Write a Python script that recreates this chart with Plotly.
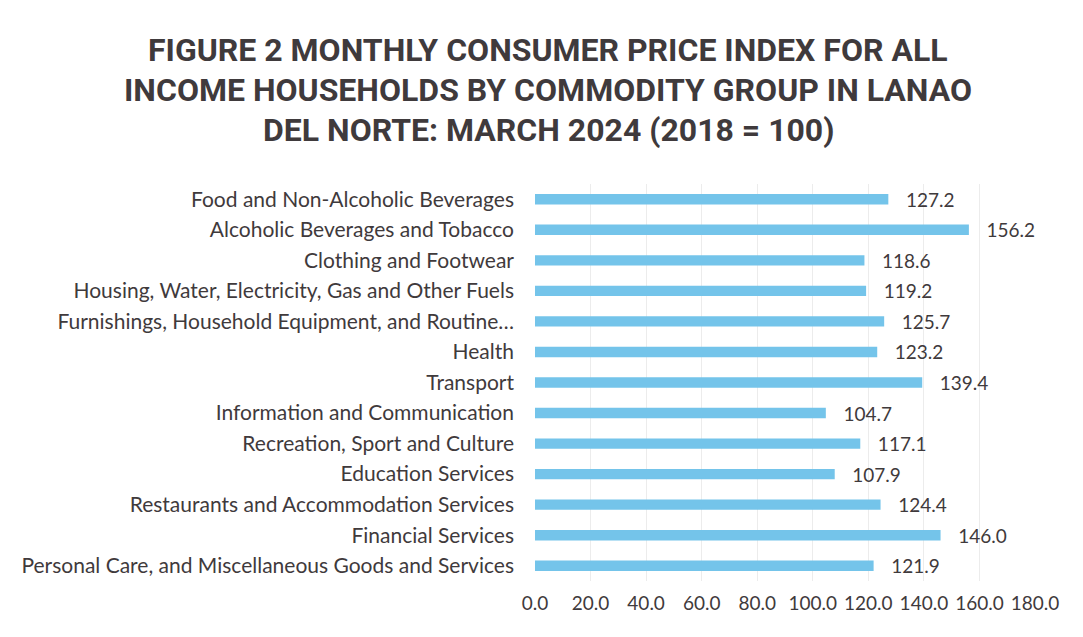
import plotly.graph_objects as go

categories = [
    "Food and Non-Alcoholic Beverages",
    "Alcoholic Beverages and Tobacco",
    "Clothing and Footwear",
    "Housing, Water, Electricity, Gas and Other Fuels",
    "Furnishings, Household Equipment, and Routine…",
    "Health",
    "Transport",
    "Information and Communication",
    "Recreation, Sport and Culture",
    "Education Services",
    "Restaurants and Accommodation Services",
    "Financial Services",
    "Personal Care, and Miscellaneous Goods and Services",
]
values = [127.2, 156.2, 118.6, 119.2, 125.7, 123.2, 139.4, 104.7, 117.1, 107.9, 124.4, 146.0, 121.9]
x_ticks = [0, 20, 40, 60, 80, 100, 120, 140, 160, 180]

title_lines = [
    "FIGURE 2 MONTHLY CONSUMER PRICE INDEX FOR ALL",
    "INCOME HOUSEHOLDS BY COMMODITY GROUP IN LANAO",
    "DEL NORTE: MARCH 2024 (2018 = 100)",
]

text_color = "#3f3a3c"
bar_color = "#74c4ea"
font_family = "Lato"

fig = go.Figure(
    go.Bar(
        x=values,
        y=categories,
        orientation="h",
        marker=dict(color=bar_color, line=dict(width=0)),
        width=0.34,
        text=[f"{v:.1f}" for v in values],
        texttemplate="\u00a0\u00a0\u00a0%{text}",
        textposition="outside",
        constraintext="none",
        cliponaxis=False,
        textfont=dict(family=font_family, size=19, color=text_color),
        hoverinfo="x+y",
    )
)

# title lines placed relative to the plot area (paper coords)
title_y = [1.337, 1.237, 1.137]
for line, yy in zip(title_lines, title_y):
    fig.add_annotation(
        text=f"<b>{line}</b>",
        x=0.026,
        xref="paper",
        y=yy,
        yref="paper",
        xanchor="center",
        yanchor="middle",
        showarrow=False,
        font=dict(family="Roboto", size=32, color=text_color),
    )

fig.update_layout(
    width=1067,
    height=621,
    paper_bgcolor="white",
    plot_bgcolor="white",
    margin=dict(l=527, r=40, t=176, b=48, autoexpand=False),
    showlegend=False,
    xaxis=dict(
        range=[0, 180],
        tickvals=x_ticks,
        tickformat=".1f",
        showgrid=True,
        gridcolor="#ececec",
        gridwidth=1,
        zeroline=False,
        showline=False,
        ticks="",
        automargin=False,
        tickfont=dict(family=font_family, size=19, color=text_color),
        ticklabelstandoff=9,
    ),
    yaxis=dict(
        autorange="reversed",
        showgrid=False,
        zeroline=False,
        showline=False,
        ticks="",
        automargin=False,
        tickfont=dict(family=font_family, size=21, color=text_color),
        ticklabelstandoff=20,
    ),
)

fig.write_html("out.html")
